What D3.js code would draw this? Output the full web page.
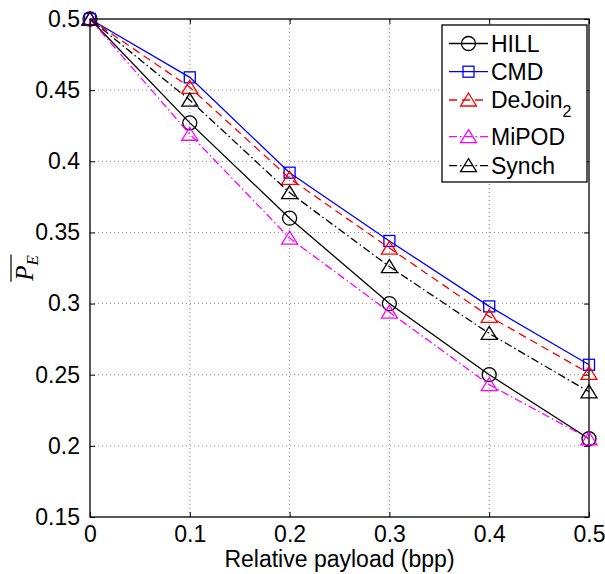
<!DOCTYPE html>
<html>
<head>
<meta charset="utf-8">
<script src="https://cdn.jsdelivr.net/npm/d3@7"></script>
<style>
  html, body { margin: 0; padding: 0; background: #fff; }
  svg { display: block; font-family: "Liberation Sans", Arial, Helvetica, sans-serif; }
</style>
</head>
<body>
<svg id="chart" width="605" height="574"></svg>
<script>
// Relative payload (bpp) on the x axis
const payload = [0, 0.1, 0.2, 0.3, 0.4, 0.5];

// Average detection error for each embedding scheme
const hill   = [0.5, 0.427, 0.360, 0.300, 0.250, 0.205];
const cmd    = [0.5, 0.459, 0.392, 0.344, 0.298, 0.257];
const dejoin = [0.5, 0.452, 0.388, 0.339, 0.291, 0.251];
const mipod  = [0.5, 0.419, 0.346, 0.294, 0.243, 0.205];
const synch  = [0.5, 0.443, 0.378, 0.326, 0.279, 0.238];

const xTicks = [0, 0.1, 0.2, 0.3, 0.4, 0.5];
const yTicks = [0.15, 0.2, 0.25, 0.3, 0.35, 0.4, 0.45, 0.5];

const series = [
  { name: "HILL",   sub: null, values: hill,   color: "#000000", dash: null,          marker: "circle" },
  { name: "CMD",    sub: null, values: cmd,    color: "#0000ff", dash: null,          marker: "square" },
  { name: "DeJoin", sub: "2",  values: dejoin, color: "#ff0000", dash: "8,5",         marker: "triangle" },
  { name: "MiPOD",  sub: null, values: mipod,  color: "#ff00ff", dash: "8,3,1.5,3",   marker: "triangle" },
  { name: "Synch",  sub: null, values: synch,  color: "#000000", dash: "8,3,1.5,3",   marker: "triangle" }
];

const svg = d3.select("#chart");
const pLeft = 90, pRight = 589, pTop = 19, pBottom = 517;

const x = d3.scaleLinear().domain([0, 0.5]).range([pLeft, pRight]);
const y = d3.scaleLinear().domain([0.15, 0.5]).range([pBottom, pTop]);

svg.append("rect").attr("width", 605).attr("height", 574).attr("fill", "#fff");

// dotted grid
const grid = svg.append("g").attr("stroke", "#8a8a8a").attr("stroke-width", 1)
  .attr("stroke-dasharray", "1,3");
xTicks.slice(1, -1).forEach(t => {
  grid.append("line").attr("x1", x(t)).attr("x2", x(t)).attr("y1", pBottom).attr("y2", pTop);
});
yTicks.slice(1, -1).forEach(t => {
  grid.append("line").attr("y1", y(t)).attr("y2", y(t)).attr("x1", pLeft).attr("x2", pRight);
});

// axes with inward ticks on all four sides
const fmt = d => String(+d.toFixed(2));
const axisStyle = g => {
  g.select(".domain").remove();
  g.selectAll(".tick line").attr("stroke", "#000").attr("stroke-width", 1);
  g.selectAll(".tick text").attr("font-size", 23).attr("fill", "#000")
    .attr("font-family", "Liberation Sans, Arial, sans-serif");
};
svg.append("g").attr("transform", `translate(0,${pBottom})`)
  .call(d3.axisBottom(x).tickValues(xTicks).tickFormat(fmt).tickSizeInner(-5).tickPadding(9))
  .call(axisStyle)
  .call(g => g.selectAll(".tick text").attr("dy", "0.71em").attr("y", 9));
svg.append("g").attr("transform", `translate(0,${pTop})`)
  .call(d3.axisTop(x).tickValues(xTicks).tickFormat("").tickSizeInner(-5))
  .call(axisStyle);
svg.append("g").attr("transform", `translate(${pLeft},0)`)
  .call(d3.axisLeft(y).tickValues(yTicks).tickFormat(fmt).tickSizeInner(-5).tickPadding(10))
  .call(axisStyle);
svg.append("g").attr("transform", `translate(${pRight},0)`)
  .call(d3.axisRight(y).tickValues(yTicks).tickFormat("").tickSizeInner(-5))
  .call(axisStyle);

svg.append("rect").attr("x", pLeft).attr("y", pTop)
  .attr("width", pRight - pLeft).attr("height", pBottom - pTop)
  .attr("fill", "none").attr("stroke", "#000").attr("stroke-width", 1.3);

// marker shapes
function drawMarker(g, type, cx, cy, color) {
  if (type === "circle") {
    g.append("circle").attr("cx", cx).attr("cy", cy).attr("r", 7)
      .attr("fill", "none").attr("stroke", color).attr("stroke-width", 1.3);
  } else if (type === "square") {
    g.append("rect").attr("x", cx - 5.5).attr("y", cy - 5.5).attr("width", 11).attr("height", 11)
      .attr("fill", "none").attr("stroke", color).attr("stroke-width", 1.3);
  } else {
    g.append("path").attr("d", `M${cx},${cy - 7}L${cx + 8},${cy + 6}L${cx - 8},${cy + 6}Z`)
      .attr("fill", "none").attr("stroke", color).attr("stroke-width", 1.3);
  }
}

const line = d3.line().x((d, i) => x(payload[i])).y(d => y(d));
const plot = svg.append("g");
series.forEach(s => {
  plot.append("path").datum(s.values).attr("d", line)
    .attr("fill", "none").attr("stroke", s.color).attr("stroke-width", 1.3)
    .attr("stroke-dasharray", s.dash);
  s.values.forEach((v, i) => drawMarker(plot, s.marker, x(payload[i]), y(v), s.color));
});

// axis titles
svg.append("text").attr("x", (pLeft + pRight) / 2).attr("y", 567)
  .attr("text-anchor", "middle").attr("font-size", 23).text("Relative payload (bpp)");

const yl = svg.append("g").attr("transform", `translate(33,${(pTop + pBottom) / 2}) rotate(-90)`);
const ylt = yl.append("text").attr("text-anchor", "middle")
  .attr("font-family", "Liberation Serif, Times New Roman, serif").attr("font-style", "italic")
  .attr("font-size", 25);
ylt.append("tspan").text("P");
ylt.append("tspan").attr("font-size", 17).attr("dy", 5).text("E");
const bb = ylt.node().getBBox();
yl.append("line").attr("x1", bb.x).attr("x2", bb.x + bb.width)
  .attr("y1", -22).attr("y2", -22).attr("stroke", "#000").attr("stroke-width", 1.2);

// legend
const legend = svg.append("g");
legend.append("rect").attr("x", 442).attr("y", 25).attr("width", 145).attr("height", 157)
  .attr("fill", "#fff").attr("stroke", "#000").attr("stroke-width", 1.3);
const rowY = [43.5, 71.7, 100, 136.7, 165.7];
series.forEach((s, i) => {
  const cy = rowY[i];
  legend.append("line").attr("x1", 449).attr("x2", 488).attr("y1", cy).attr("y2", cy)
    .attr("stroke", s.color).attr("stroke-width", 1.3).attr("stroke-dasharray", s.dash);
  drawMarker(legend, s.marker, 468.5, cy, s.color);
  const t = legend.append("text").attr("x", 491).attr("y", cy + 8.3).attr("font-size", 23);
  t.append("tspan").text(s.name);
  if (s.sub) t.append("tspan").attr("font-size", 16).attr("dy", 9).text(s.sub);
});
</script>
</body>
</html>
